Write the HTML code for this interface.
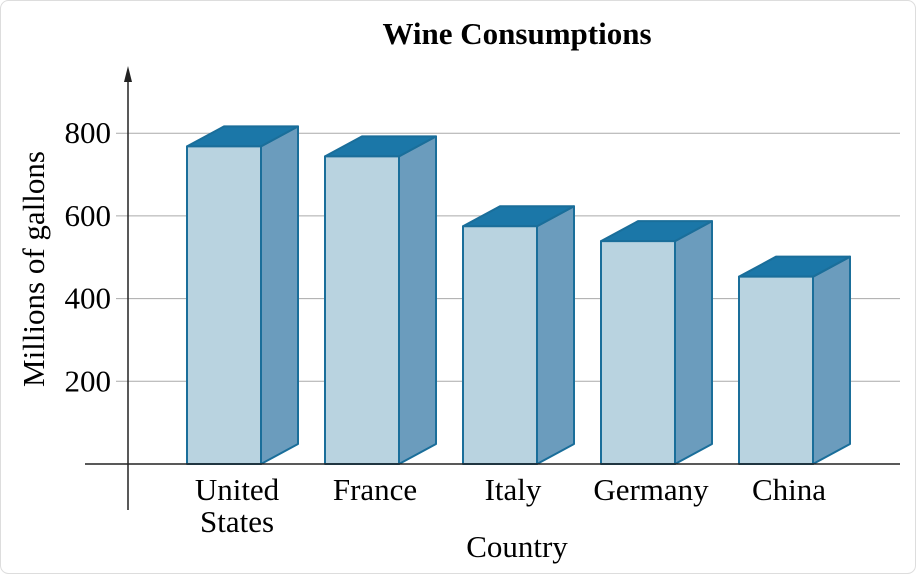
<!DOCTYPE html>
<html><head><meta charset="utf-8"><style>
html,body{margin:0;padding:0;background:#fff}
svg{display:block;font-family:"Liberation Serif",serif}
</style></head><body>
<svg width="916" height="574" viewBox="0 0 916 574">
<rect x="0.5" y="0.5" width="915" height="573" rx="8" fill="#fff" stroke="#ddd"/>
<text x="517" y="44" text-anchor="middle" font-weight="bold" font-size="31">Wine Consumptions</text>
<g id="grid"></g>
<g id="bars"></g>
<line x1="128" y1="510" x2="128" y2="72" stroke="#222" stroke-width="1.5"/>
<polygon points="128,66 124,82 132,82" fill="#222"/>
<line x1="85" y1="464" x2="900" y2="464" stroke="#222" stroke-width="1.5"/>
<g id="labels" font-size="31"></g>
<text x="517" y="557" text-anchor="middle" font-size="31">Country</text>
<text transform="translate(44,269) rotate(-90)" text-anchor="middle" font-size="31">Millions of gallons</text>
</svg>
<script>
const categories=[["United","States"],["France"],["Italy"],["Germany"],["China"]];
const values=[768,744,575,539,453];
const ticks=[200,400,600,800];
const NS="http://www.w3.org/2000/svg";
const y=v=>464-v*0.4135;
const xc=i=>224+i*138;
const bw=74,dx=37,dy=20;
function mk(t,a,p){const e=document.createElementNS(NS,t);for(const k in a)e.setAttribute(k,a[k]);p.appendChild(e);return e;}
const grid=document.getElementById('grid'),bars=document.getElementById('bars'),labels=document.getElementById('labels');
ticks.forEach(t=>{
 const l=mk('line',{x1:116,x2:900,y1:y(t),y2:y(t),stroke:'#aaa','stroke-width':1},grid);
 
 
 const tx=mk('text',{x:111,y:y(t)+10,'text-anchor':'end','font-size':31},grid);
 tx.textContent=t;
 
 
});
values.forEach((v,i)=>{
 const x0=xc(i)-bw/2,x1=x0+bw,yt=y(v),yb=464;
 const g=mk('g',{stroke:'#1a6e9a','stroke-width':2,'stroke-linejoin':'round'},bars);
 
 
 mk('polygon',{points:`${x1},${yb} ${x1+dx},${yb-dy} ${x1+dx},${yt-dy} ${x1},${yt}`,fill:'#6b9cbd'},g);
 mk('polygon',{points:`${x0},${yt} ${x0+dx},${yt-dy} ${x1+dx},${yt-dy} ${x1},${yt}`,fill:'#1b77a8'},g);
 mk('rect',{x:x0,y:yt,width:bw,height:yb-yt,fill:'#b9d3e0'},g);
 const t=mk('text',{x:xc(i)+13,y:500,'text-anchor':'middle'},labels);
 
 
 categories[i].forEach((s,j)=>{const ts=mk('tspan',{x:xc(i)+13,dy:j?32:0},t);ts.textContent=s;});
});
</script>
</body></html>
